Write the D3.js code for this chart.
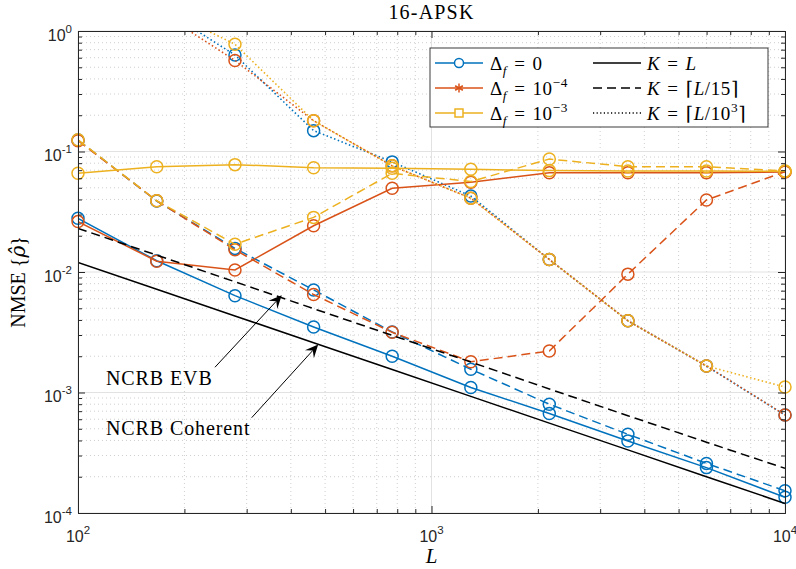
<!DOCTYPE html>
<html>
<head>
<meta charset="utf-8">
<script src="https://cdn.jsdelivr.net/npm/d3@7"></script>
<style>
  body { margin: 0; background: #fff; }
  svg { display: block; }
</style>
</head>
<body>
<svg id="chart" width="796" height="569"></svg>
<script>
// ---- data -------------------------------------------------------------
const L = [100, 167, 278, 464, 774, 1292, 2154, 3594, 5995, 10000];

// Δf = 0
const df0_KL    = [0.0279, 0.0124, 0.00636, 0.0035, 0.0020, 0.00110, 0.00067, 0.000396, 0.000238, 0.000135];
const df0_KL15  = [0.1245, 0.0388, 0.0157, 0.0071, 0.00318, 0.00156, 0.00080, 0.00045, 0.000258, 0.000153];
const df0_KL1e3 = [3.5, 1.63, 0.632, 0.149, 0.082, 0.0427, 0.0127, 0.00394, 0.00166, 0.00065];

// Δf = 1e-4
const df4_KL    = [0.0262, 0.0123, 0.0104, 0.0242, 0.0495, 0.0555, 0.0667, 0.0667, 0.0667, 0.0675];
const df4_KL15  = [0.123, 0.039, 0.0153, 0.0065, 0.00316, 0.0018, 0.00221, 0.0096, 0.0396, 0.068];
const df4_KL1e3 = [3.5, 1.5, 0.57, 0.180, 0.076, 0.041, 0.0127, 0.00394, 0.00166, 0.00065];

// Δf = 1e-3
const df3_KL    = [0.0659, 0.0748, 0.0778, 0.0734, 0.0725, 0.0712, 0.0694, 0.0690, 0.0690, 0.0685];
const df3_KL15  = [0.125, 0.039, 0.0170, 0.0284, 0.0659, 0.0563, 0.0866, 0.0748, 0.0748, 0.069];
const df3_KL1e3 = [3.5, 1.62, 0.776, 0.180, 0.076, 0.041, 0.0127, 0.00394, 0.00166, 0.00111];

// bounds
const ncrbCoherent = [0.0120, 0.00719, 0.00432, 0.00259, 0.00155, 0.000929, 0.000557, 0.000334, 0.000200, 0.000120];
const ncrbEVB      = [0.0230, 0.0138, 0.0083, 0.00496, 0.00298, 0.00179, 0.00107, 0.000642, 0.000387, 0.000235];

// ticks
const xMajor = [100, 1000, 10000];
const xMajorExp = ['2', '3', '4'];
const yMajor = [1e-4, 1e-3, 1e-2, 1e-1, 1];
const yMajorExp = ['-4', '-3', '-2', '-1', '0'];

// ---- layout -----------------------------------------------------------
const plot = { left: 78, right: 785, top: 31, bottom: 513 };
const colors = { blue: '#0072BD', orange: '#D95319', yellow: '#EDB120' };
const serif = '"Liberation Serif", "DejaVu Serif", serif';
const sans = '"Liberation Sans", Arial, sans-serif';
const axisColor = '#262626';

const svg = d3.select('#chart');

const x = d3.scaleLog().domain([100, 10000]).range([plot.left, plot.right]);
const y = d3.scaleLog().domain([1e-4, 1]).range([plot.bottom, plot.top]);

// minor tick positions (2..9 within each decade)
const minorOf = (lo, hi) => {
  const out = [];
  for (let e = lo; e < hi; e++) for (let m = 2; m <= 9; m++) out.push(m * Math.pow(10, e));
  return out;
};
const xMinor = minorOf(2, 4);
const yMinor = minorOf(-4, 0);

// ---- grid -------------------------------------------------------------
const grid = svg.append('g');
grid.selectAll('.gxm').data(xMinor).join('line')
  .attr('x1', d => x(d)).attr('x2', d => x(d))
  .attr('y1', plot.top).attr('y2', plot.bottom)
  .attr('stroke', '#cfcfcf').attr('stroke-width', 1).attr('stroke-dasharray', '1,3');
grid.selectAll('.gym').data(yMinor).join('line')
  .attr('y1', d => y(d)).attr('y2', d => y(d))
  .attr('x1', plot.left).attr('x2', plot.right)
  .attr('stroke', '#cfcfcf').attr('stroke-width', 1).attr('stroke-dasharray', '1,3');
grid.selectAll('.gxM').data(xMajor).join('line')
  .attr('x1', d => x(d)).attr('x2', d => x(d))
  .attr('y1', plot.top).attr('y2', plot.bottom)
  .attr('stroke', '#e2e2e2').attr('stroke-width', 1);
grid.selectAll('.gyM').data(yMajor).join('line')
  .attr('y1', d => y(d)).attr('y2', d => y(d))
  .attr('x1', plot.left).attr('x2', plot.right)
  .attr('stroke', '#e2e2e2').attr('stroke-width', 1);

// ---- series -----------------------------------------------------------
svg.append('clipPath').attr('id', 'plotclip')
  .append('rect')
  .attr('x', plot.left).attr('y', plot.top)
  .attr('width', plot.right - plot.left).attr('height', plot.bottom - plot.top);

const dashStyles = { solid: null, dashed: '9,5', dotted: '1.5,2.5' };

const series = [
  { v: df0_KL,    c: colors.blue,   s: 'solid',  marker: true },
  { v: df0_KL15,  c: colors.blue,   s: 'dashed', marker: true },
  { v: df0_KL1e3, c: colors.blue,   s: 'dotted', marker: true },
  { v: df4_KL,    c: colors.orange, s: 'solid',  marker: true },
  { v: df4_KL15,  c: colors.orange, s: 'dashed', marker: true },
  { v: df4_KL1e3, c: colors.orange, s: 'dotted', marker: true },
  { v: df3_KL,    c: colors.yellow, s: 'solid',  marker: true },
  { v: df3_KL15,  c: colors.yellow, s: 'dashed', marker: true },
  { v: df3_KL1e3, c: colors.yellow, s: 'dotted', marker: true },
  { v: ncrbCoherent, c: '#000', s: 'solid',  marker: false },
  { v: ncrbEVB,      c: '#000', s: 'dashed', marker: false }
];

const line = d3.line().x((d, i) => x(L[i])).y(d => y(d));
const dataLayer = svg.append('g');

series.forEach(sr => {
  const g = dataLayer.append('g');
  g.append('path')
    .attr('clip-path', 'url(#plotclip)')
    .attr('d', line(sr.v))
    .attr('fill', 'none')
    .attr('stroke', sr.c)
    .attr('stroke-width', sr.s === 'dotted' ? 1.6 : 1.5)
    .attr('stroke-dasharray', dashStyles[sr.s]);
  if (sr.marker) {
    const pts = sr.v.map((v, i) => [L[i], v]).filter(p => p[1] <= 1 && p[1] >= 1e-4);
    g.selectAll('circle').data(pts).join('circle')
      .attr('cx', d => x(d[0])).attr('cy', d => y(d[1]))
      .attr('r', 6)
      .attr('fill', 'none')
      .attr('stroke', sr.c)
      .attr('stroke-width', 1.5);
  }
});

// ---- axes box with inward ticks --------------------------------------
const axes = svg.append('g').attr('color', axisColor);
const noLabel = () => '';
const styleAxis = g => {
  g.select('.domain').attr('stroke', axisColor).attr('stroke-width', 1);
  g.selectAll('.tick line').attr('stroke', axisColor).attr('stroke-width', 1);
  g.selectAll('.tick text').remove();
};
axes.append('g').attr('transform', `translate(0,${plot.bottom})`)
  .call(d3.axisBottom(x).tickValues(xMajor).tickSizeInner(-7).tickSizeOuter(0).tickFormat(noLabel)).call(styleAxis);
axes.append('g').attr('transform', `translate(0,${plot.bottom})`)
  .call(d3.axisBottom(x).tickValues(xMinor).tickSizeInner(-4).tickSizeOuter(0).tickFormat(noLabel)).call(styleAxis);
axes.append('g').attr('transform', `translate(0,${plot.top})`)
  .call(d3.axisTop(x).tickValues(xMajor).tickSizeInner(-7).tickSizeOuter(0).tickFormat(noLabel)).call(styleAxis);
axes.append('g').attr('transform', `translate(0,${plot.top})`)
  .call(d3.axisTop(x).tickValues(xMinor).tickSizeInner(-4).tickSizeOuter(0).tickFormat(noLabel)).call(styleAxis);
axes.append('g').attr('transform', `translate(${plot.left},0)`)
  .call(d3.axisLeft(y).tickValues(yMajor).tickSizeInner(-7).tickSizeOuter(0).tickFormat(noLabel)).call(styleAxis);
axes.append('g').attr('transform', `translate(${plot.left},0)`)
  .call(d3.axisLeft(y).tickValues(yMinor).tickSizeInner(-4).tickSizeOuter(0).tickFormat(noLabel)).call(styleAxis);
axes.append('g').attr('transform', `translate(${plot.right},0)`)
  .call(d3.axisRight(y).tickValues(yMajor).tickSizeInner(-7).tickSizeOuter(0).tickFormat(noLabel)).call(styleAxis);
axes.append('g').attr('transform', `translate(${plot.right},0)`)
  .call(d3.axisRight(y).tickValues(yMinor).tickSizeInner(-4).tickSizeOuter(0).tickFormat(noLabel)).call(styleAxis);

// ---- tick labels (10^n) ---------------------------------------------
const powLabel = (sel, px, py, exp, anchor) => {
  const t = sel.append('text')
    .attr('x', px).attr('y', py)
    .attr('font-family', sans).attr('font-size', 16)
    .attr('fill', axisColor).attr('text-anchor', anchor);
  t.append('tspan').text('10');
  t.append('tspan').text(exp).attr('font-size', 11.5).attr('dy', -8);
  return t;
};
const tickLabels = svg.append('g');
xMajor.forEach((v, i) => powLabel(tickLabels, x(v), plot.bottom + 29, xMajorExp[i], 'middle'));
yMajor.forEach((v, i) => powLabel(tickLabels, plot.left - 6, y(v) + 9.5, yMajorExp[i], 'end'));

// ---- math-style text helper -------------------------------------------
function mathText(sel, px, py, parts, size, anchor, spacing) {
  const t = sel.append('text')
    .attr('x', px).attr('y', py)
    .attr('font-family', serif).attr('font-size', size)
    .attr('fill', '#000')
    .attr('letter-spacing', spacing || 0)
    .attr('text-anchor', anchor || 'start');
  let cur = 0;
  parts.forEach(p => {
    const shift = p.sub ? size * 0.25 : p.sup ? -size * 0.42 : 0;
    const ts = t.append('tspan').text(p.t).attr('dy', shift - cur);
    cur = shift;
    if (p.sub || p.sup) ts.attr('font-size', size * 0.7);
    if (p.it) ts.attr('font-style', 'italic');
    if (p.dx) ts.attr('dx', p.dx);
    if (p.font) ts.attr('font-family', p.font);
  });
  return t;
}

// ---- titles -------------------------------------------------------------
svg.append('text')
  .attr('x', (plot.left + plot.right) / 2).attr('y', 19)
  .attr('text-anchor', 'middle')
  .attr('font-family', serif).attr('font-size', 20)
  .attr('letter-spacing', 1.2)
  .text('16-APSK');

mathText(svg, (plot.left + plot.right) / 2, 563, [{ t: 'L', it: true }], 21, 'middle');

const yl = svg.append('g').attr('transform', `translate(25,${(plot.top + plot.bottom) / 2 + 10}) rotate(-90)`);
mathText(yl, 0, 0, [
  { t: 'NMSE ' }, { t: '{' }, { t: 'ρ\u0302', it: true, font: '"DejaVu Serif", serif' }, { t: '}' }
], 20, 'middle');

// ---- annotations --------------------------------------------------------
const notes = [
  { text: 'NCRB EVB',      tx: 120, ty: 0.00115,  fromL: 244, fromV: 0.00162,  toL: 377, toV: 0.00640 },
  { text: 'NCRB Coherent', tx: 120, ty: 0.000444, fromL: 310, fromV: 0.000618, toL: 478, toV: 0.00250 }
];
const ann = svg.append('g');
notes.forEach(n => {
  ann.append('text')
    .attr('x', x(n.tx)).attr('y', y(n.ty))
    .attr('font-family', serif).attr('font-size', 20)
    .attr('letter-spacing', 0.9)
    .text(n.text);
  const x1 = x(n.fromL), y1 = y(n.fromV), x2 = x(n.toL), y2 = y(n.toV);
  const ang = Math.atan2(y2 - y1, x2 - x1);
  const ux = Math.cos(ang), uy = Math.sin(ang);
  const px = -uy, py = ux;
  const headLen = 13, headW = 6, notch = 8;
  ann.append('line')
    .attr('x1', x1).attr('y1', y1)
    .attr('x2', x2 - ux * notch).attr('y2', y2 - uy * notch)
    .attr('stroke', '#000').attr('stroke-width', 1);
  const pts = [
    [x2, y2],
    [x2 - ux * headLen + px * headW, y2 - uy * headLen + py * headW],
    [x2 - ux * notch, y2 - uy * notch],
    [x2 - ux * headLen - px * headW, y2 - uy * headLen - py * headW]
  ];
  ann.append('polygon').attr('points', pts.map(p => p.join(',')).join(' ')).attr('fill', '#000');
});

// ---- legend -------------------------------------------------------------
const legend = svg.append('g');
legend.append('rect')
  .attr('x', 430).attr('y', 48).attr('width', 338).attr('height', 79)
  .attr('fill', '#fff').attr('stroke', axisColor).attr('stroke-width', 0.9);

const legendRows = [63, 88, 113];
const ceilFont = '"DejaVu Serif", serif';
const leftItems = [
  { c: colors.blue,   m: 'circle',   parts: [{ t: 'Δ' }, { t: 'f', it: true, sub: true }, { t: '=', dx: 7 }, { t: '0', dx: 7 }] },
  { c: colors.orange, m: 'asterisk', parts: [{ t: 'Δ' }, { t: 'f', it: true, sub: true }, { t: '=', dx: 7 }, { t: '10', dx: 7 }, { t: '−4', sup: true }] },
  { c: colors.yellow, m: 'square',   parts: [{ t: 'Δ' }, { t: 'f', it: true, sub: true }, { t: '=', dx: 7 }, { t: '10', dx: 7 }, { t: '−3', sup: true }] }
];
const rightItems = [
  { s: 'solid',  parts: [{ t: 'K', it: true }, { t: '=', dx: 7 }, { t: 'L', it: true, dx: 7 }] },
  { s: 'dashed', parts: [{ t: 'K', it: true }, { t: '=', dx: 7 }, { t: '⌈', dx: 7, font: ceilFont }, { t: 'L', it: true }, { t: '/15' }, { t: '⌉', font: ceilFont }] },
  { s: 'dotted', parts: [{ t: 'K', it: true }, { t: '=', dx: 7 }, { t: '⌈', dx: 7, font: ceilFont }, { t: 'L', it: true }, { t: '/10' }, { t: '3', sup: true }, { t: '⌉', font: ceilFont }] }
];

leftItems.forEach((it, i) => {
  const ry = legendRows[i];
  legend.append('line').attr('x1', 435).attr('x2', 483).attr('y1', ry).attr('y2', ry)
    .attr('stroke', it.c).attr('stroke-width', 1.5);
  const cx = 459;
  if (it.m === 'circle') {
    legend.append('circle').attr('cx', cx).attr('cy', ry).attr('r', 4.5)
      .attr('fill', '#fff').attr('stroke', it.c).attr('stroke-width', 1.5);
  } else if (it.m === 'square') {
    legend.append('rect').attr('x', cx - 4).attr('y', ry - 4).attr('width', 8).attr('height', 8)
      .attr('fill', '#fff').attr('stroke', it.c).attr('stroke-width', 1.5);
  } else {
    const r = 4.5;
    [0, 60, 120].forEach(a => {
      const rad = a * Math.PI / 180;
      legend.append('line')
        .attr('x1', cx - r * Math.sin(rad)).attr('y1', ry - r * Math.cos(rad))
        .attr('x2', cx + r * Math.sin(rad)).attr('y2', ry + r * Math.cos(rad))
        .attr('stroke', it.c).attr('stroke-width', 1.5);
    });
  }
  mathText(legend, 490, ry + 7, it.parts, 19, 'start', 0.6);
});

rightItems.forEach((it, i) => {
  const ry = legendRows[i];
  legend.append('line').attr('x1', 593).attr('x2', 641).attr('y1', ry).attr('y2', ry)
    .attr('stroke', '#000').attr('stroke-width', 1.5)
    .attr('stroke-dasharray', it.s === 'dashed' ? '9,5' : it.s === 'dotted' ? '1.2,2.4' : null);
  mathText(legend, 647, ry + 7, it.parts, 19, 'start', 0.6);
});
</script>
</body>
</html>
